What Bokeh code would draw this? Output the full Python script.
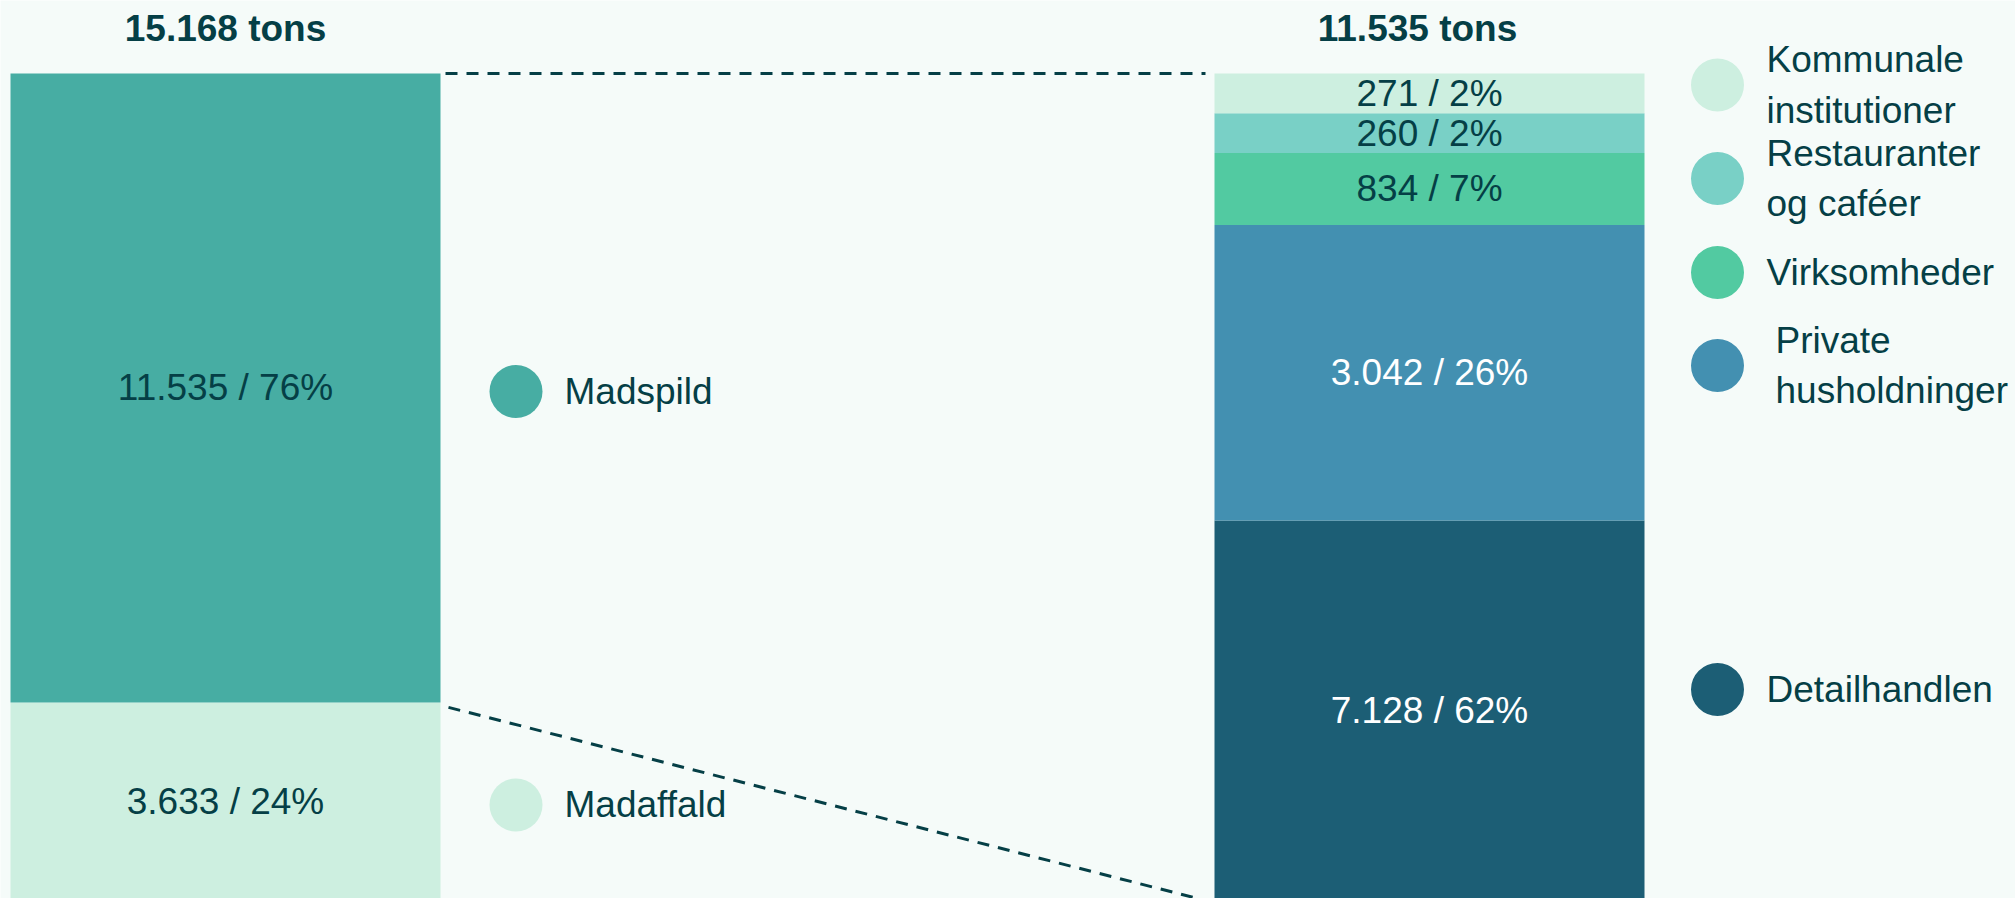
from bokeh.plotting import figure
from bokeh.models import Range1d, ColumnDataSource
from bokeh.core.properties import value
from bokeh.embed import file_html
from bokeh.resources import INLINE
import numpy as np

# ---------------- data ----------------
split_names = ["Madaffald", "Madspild"]          # bottom -> top
split_values = [3633, 11535]                      # tons
sector_names = ["Detailhandlen", "Private\nhusholdninger", "Virksomheder",
                "Restauranter\nog caféer", "Kommunale\ninstitutioner"]  # bottom -> top
sector_values = [7128, 3042, 834, 260, 271]      # tons
# share of the right bar's height that each segment is drawn with in the picture (not to scale)
sector_drawn_share = [45.9, 35.7, 8.7, 4.8, 4.8]

# ---------------- styles ----------------
BG = "#F5FBF9"
DARK = "#053F46"
split_colors = ["#CDEFE0", "#47ADA3"]
split_text_colors = [DARK, DARK]
sector_colors = ["#1C5E75", "#4390B1", "#52CAA1", "#79D0C6", "#CDEFE0"]
sector_text_colors = ["white", "white", DARK, DARK, DARK]
FONT = value("Liberation Sans")

W, H = 2015, 898
PX = 8.27            # pixels per percent of bar height
ZERO_PAGE = 900.0    # page y of bar bottoms


def page_y(py):
    return (ZERO_PAGE - py) / PX


def fmt(v):
    return f"{v:,}".replace(",", ".")


p = figure(width=W, height=H, output_backend="svg", toolbar_location=None,
           x_axis_type=None, y_axis_type=None, min_border=0,
           x_range=Range1d(0, W),
           y_range=Range1d(page_y(H), page_y(0)))
p.grid.visible = False
p.outline_line_color = None
p.background_fill_color = BG
p.border_fill_color = BG

# ---------------- left bar ----------------
L0, L1 = 10, 440
total = sum(split_values)
sv = np.array(split_values, dtype=float)
top_l = np.cumsum(sv) / total * 100
bot_l = top_l - sv / total * 100
mid_l = (bot_l + top_l) / 2
pct_l = [round(v / total * 100) for v in split_values]
src_l = ColumnDataSource(dict(
    bottom=bot_l, top=top_l, mid=mid_l, legy=mid_l - 3.5 / PX,
    color=split_colors, tcolor=split_text_colors,
    label=[f"{fmt(v)} / {pc}%" for v, pc in zip(split_values, pct_l)],
    name=split_names))
p.quad(left=L0, right=L1, bottom="bottom", top="top", fill_color="color",
       line_color=None, source=src_l)
p.text(x=(L0 + L1) / 2, y="mid", text="label", text_color="tcolor",
       text_font=FONT, text_font_size="37px", text_align="center",
       text_baseline="middle", source=src_l)
# left legend
p.scatter(x=515.5, y="legy", size=53, marker="circle", fill_color="color",
          line_color=None, source=src_l)
p.text(x=564, y="legy", text="name", text_color=DARK, text_font=FONT,
       text_font_size="37px", text_align="left", text_baseline="middle",
       source=src_l)
p.text(x=[(L0 + L1) / 2], y=[100], text=[f"{fmt(total)} tons"], text_color=DARK,
       text_font=FONT, text_font_size="37px", text_font_style="bold",
       text_align="center", text_baseline="middle", y_offset=-45)

# ---------------- right bar ----------------
R0, R1 = 1214, 1644
wtotal = sum(sector_values)
dv = np.array(sector_drawn_share, dtype=float)
dv = dv / dv.sum() * 100
top_r = np.cumsum(dv)
bot_r = top_r - dv
pct_r = [round(v / wtotal * 100) for v in sector_values]
src_r = ColumnDataSource(dict(
    bottom=bot_r, top=top_r, mid=(bot_r + top_r) / 2, color=sector_colors,
    tcolor=sector_text_colors,
    label=[f"{fmt(v)} / {pc}%" for v, pc in zip(sector_values, pct_r)],
    name=sector_names,
    ly=[page_y(v) for v in [689, 365, 272, 178, 84.5]],
    lxo=[0, 9, 0, 0, 0]))
p.quad(left=R0, right=R1, bottom="bottom", top="top", fill_color="color",
       line_color=None, source=src_r)
p.text(x=(R0 + R1) / 2, y="mid", text="label", text_color="tcolor",
       text_font=FONT, text_font_size="37px", text_align="center",
       text_baseline="middle", source=src_r)
p.text(x=[(R0 + R1) / 2], y=[100], text=[f"{fmt(wtotal)} tons"], text_color=DARK,
       text_font=FONT, text_font_size="37px", text_font_style="bold",
       text_align="center", text_baseline="middle", y_offset=-45, x_offset=-12)
# right legend
p.scatter(x=1717, y="ly", size=53, marker="circle", fill_color="color",
          line_color=None, source=src_r)
p.text(x=1766, y="ly", x_offset="lxo", text="name", text_color=DARK, text_font=FONT,
       text_font_size="37px", text_align="left", text_baseline="middle",
       text_line_height=1.22, source=src_r)

# ---------------- connector lines ----------------
madspild_bottom = bot_l[1]
p.segment(x0=[L1 + 5, L1 + 8], y0=[100, madspild_bottom - 0.6],
          x1=[R0 - 9, R0 - 9], y1=[100, 0],
          line_color=DARK, line_width=3, line_dash="12 9")

open("out.html", "w").write(file_html(p, INLINE))
